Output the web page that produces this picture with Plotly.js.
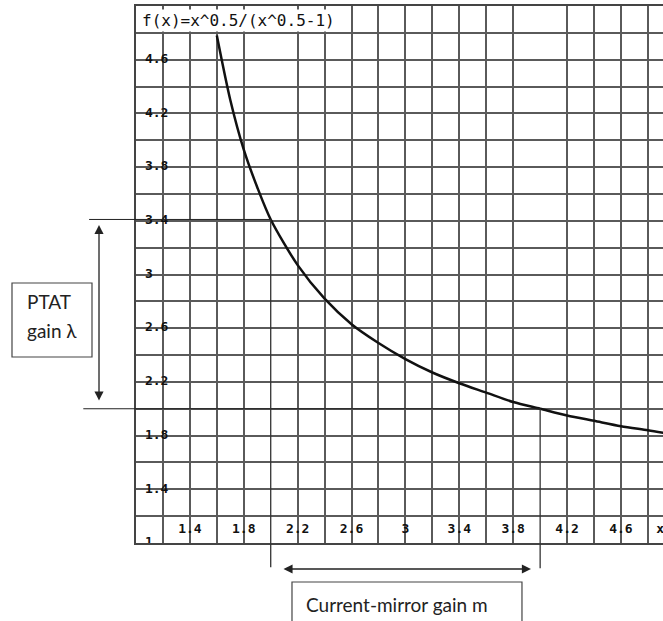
<!DOCTYPE html>
<html>
<head>
<meta charset="utf-8">
<script src="https://cdn.plot.ly/plotly-3.0.1.min.js"></script>
<style>
  html, body { margin: 0; padding: 0; background: #ffffff; }
  #chart { width: 663px; height: 621px; }
</style>
</head>
<body>
<div id="chart"></div>
<script>
// Current-mirror gain m against PTAT gain lambda: f(x) = x^0.5 / (x^0.5 - 1)
const gainM      = [1.6, 1.7, 1.8, 1.9, 2.0, 2.2, 2.4, 2.6, 2.8, 3.0, 3.2, 3.4, 3.6, 3.8, 4.0, 4.2, 4.4, 4.6, 4.8, 4.92];
const gainLambda = [4.78, 4.30, 3.93, 3.65, 3.41, 3.07, 2.82, 2.63, 2.49, 2.37, 2.27, 2.19, 2.12, 2.05, 2.00, 1.95, 1.91, 1.87, 1.84, 1.82];

// Two operating points marked on the curve
const markM      = [2, 4];
const markLambda = [3.41, 2.00];

// Grid positions (the x = 2 and x = 4 lines are left to the guide lines)
const xGridVals = [1.2, 1.4, 1.6, 1.8, 2.2, 2.4, 2.6, 2.8, 3.0, 3.2, 3.4, 3.6, 3.8, 4.2, 4.4, 4.6, 4.8];
const yGridVals = [1.2, 1.4, 1.6, 1.8, 2.0, 2.2, 2.4, 2.6, 2.8, 3.0, 3.2, 3.4, 3.6, 3.8, 4.0, 4.2, 4.4, 4.6, 4.8];

// Tick labels drawn inside the grid
const xTickVals  = [1.4, 1.8, 2.2, 2.6, 3, 3.4, 3.8, 4.2, 4.6];
const xTickText  = ['1.4', '1.8', '2.2', '2.6', '3', '3.4', '3.8', '4.2', '4.6'];
const yTickVals  = [4.6, 4.2, 3.8, 3.4, 3, 2.6, 2.2, 1.8, 1.4, 1];
const yTickText  = ['4.6', '4.2', '3.8', '3.4', '3', '2.6', '2.2', '1.8', '1.4', '1'];

const formulaText = 'f(x)=x^0.5/(x^0.5-1)';
const lambdaLabel = ['PTAT', 'gain λ'];
const mLabel = 'Current-mirror gain m';

const xRange = [1, 4.912];
const yRange = [1, 5];

const toPaperX = v => (v - xRange[0]) / (xRange[1] - xRange[0]);
const toPaperY = v => (v - yRange[0]) / (yRange[1] - yRange[0]);

const tickFont = { family: 'DejaVu Sans Mono', size: 13, weight: 'bold', color: '#111' };
const boxFont = { family: 'Lato', size: 19, color: '#222' };

const curve = {
  x: gainM, y: gainLambda,
  type: 'scatter', mode: 'lines',
  line: { color: '#111', width: 2.5, shape: 'spline', smoothing: 0.8 },
  cliponaxis: true, hoverinfo: 'skip', showlegend: false
};

const xLabels = {
  x: xTickVals.concat([4.89]),
  y: xTickVals.map(() => 1.097).concat([1.097]),
  text: xTickText.concat(['x']),
  type: 'scatter', mode: 'text', textposition: 'middle center',
  textfont: tickFont, cliponaxis: true, hoverinfo: 'skip', showlegend: false
};

const yLabels = {
  x: yTickVals.map(() => 1.066),
  y: yTickVals,
  text: yTickText,
  type: 'scatter', mode: 'text', textposition: 'middle right',
  textfont: tickFont, cliponaxis: true, hoverinfo: 'skip', showlegend: false
};

const guideColor = '#222';
const shapes = [
  // horizontal guides from the lambda arrow to the curve
  { type: 'line', xref: 'paper', yref: 'paper',
    x0: -0.089, x1: toPaperX(markM[0]), y0: toPaperY(markLambda[0]), y1: toPaperY(markLambda[0]),
    line: { color: guideColor, width: 1 } },
  { type: 'line', xref: 'paper', yref: 'paper',
    x0: -0.1, x1: toPaperX(markM[1]), y0: toPaperY(markLambda[1]), y1: toPaperY(markLambda[1]),
    line: { color: guideColor, width: 1 } },
  // vertical guides from the curve down to the m arrow
  { type: 'line', xref: 'paper', yref: 'paper',
    x0: toPaperX(markM[0]), x1: toPaperX(markM[0]), y0: toPaperY(markLambda[0]), y1: -0.045,
    line: { color: '#333', width: 1.3 } },
  { type: 'line', xref: 'paper', yref: 'paper',
    x0: toPaperX(markM[1]), x1: toPaperX(markM[1]), y0: toPaperY(markLambda[1]), y1: -0.047,
    line: { color: '#333', width: 1.3 } },
  // label boxes
  { type: 'rect', xref: 'paper', yref: 'paper',
    x0: -0.2353, x1: -0.0835, y0: 0.3464, y1: 0.4842,
    line: { color: '#444', width: 1.2 }, fillcolor: '#ffffff' },
  { type: 'rect', xref: 'paper', yref: 'paper',
    x0: 0.296, x1: 0.7324, y0: -0.0726, y1: -0.17,
    line: { color: '#444', width: 1.2 }, fillcolor: '#ffffff' }
];

const arrowStyle = {
  text: '', showarrow: true, arrowside: 'end+start',
  arrowhead: 2, startarrowhead: 2, arrowsize: 1.4, startarrowsize: 1.4,
  arrowwidth: 1.3, arrowcolor: '#222', standoff: 0, startstandoff: 0,
  axref: 'pixel', ayref: 'pixel', xref: 'paper', yref: 'paper'
};

const annotations = [
  // formula caption in the top row of the grid
  { text: formulaText, xref: 'paper', yref: 'paper', x: 0.0076, y: 0.9725,
    xanchor: 'left', yanchor: 'middle', showarrow: false,
    font: { family: 'DejaVu Sans Mono', size: 16, color: '#111' },
    bgcolor: '#ffffff', borderpad: 1 },
  // lambda span arrow
  Object.assign({}, arrowStyle, { x: -0.0702, y: 0.5922, ax: 0, ay: 177 }),
  // m span arrow
  Object.assign({}, arrowStyle, { x: 0.7495, y: -0.0484, ax: -249, ay: 0 }),
  // box texts
  { text: lambdaLabel[0], xref: 'paper', yref: 'paper', x: -0.2106, y: 0.449,
    xanchor: 'left', yanchor: 'middle', showarrow: false, font: boxFont },
  { text: lambdaLabel[1], xref: 'paper', yref: 'paper', x: -0.2106, y: 0.396,
    xanchor: 'left', yanchor: 'middle', showarrow: false, font: boxFont },
  { text: mLabel, xref: 'paper', yref: 'paper', x: 0.318, y: -0.1136,
    xanchor: 'left', yanchor: 'middle', showarrow: false, font: boxFont }
];

const layout = {
  width: 663, height: 621,
  margin: { l: 136, r: 0, t: 6, b: 78, pad: 0 },
  paper_bgcolor: '#ffffff', plot_bgcolor: '#ffffff',
  showlegend: false,
  dragmode: false,
  xaxis: {
    range: xRange, tickmode: 'array', tickvals: xGridVals, showticklabels: false, ticks: '',
    showgrid: true, gridcolor: '#5a5a5a', gridwidth: 2, zeroline: false,
    showline: true, linecolor: '#444', linewidth: 2, mirror: true, fixedrange: true
  },
  yaxis: {
    range: yRange, tickmode: 'array', tickvals: yGridVals, showticklabels: false, ticks: '',
    showgrid: true, gridcolor: '#5a5a5a', gridwidth: 2, zeroline: false,
    showline: true, linecolor: '#444', linewidth: 2, fixedrange: true
  },
  shapes: shapes,
  annotations: annotations
};

Plotly.newPlot('chart', [curve, xLabels, yLabels], layout, { displayModeBar: false });
</script>
</body>
</html>
